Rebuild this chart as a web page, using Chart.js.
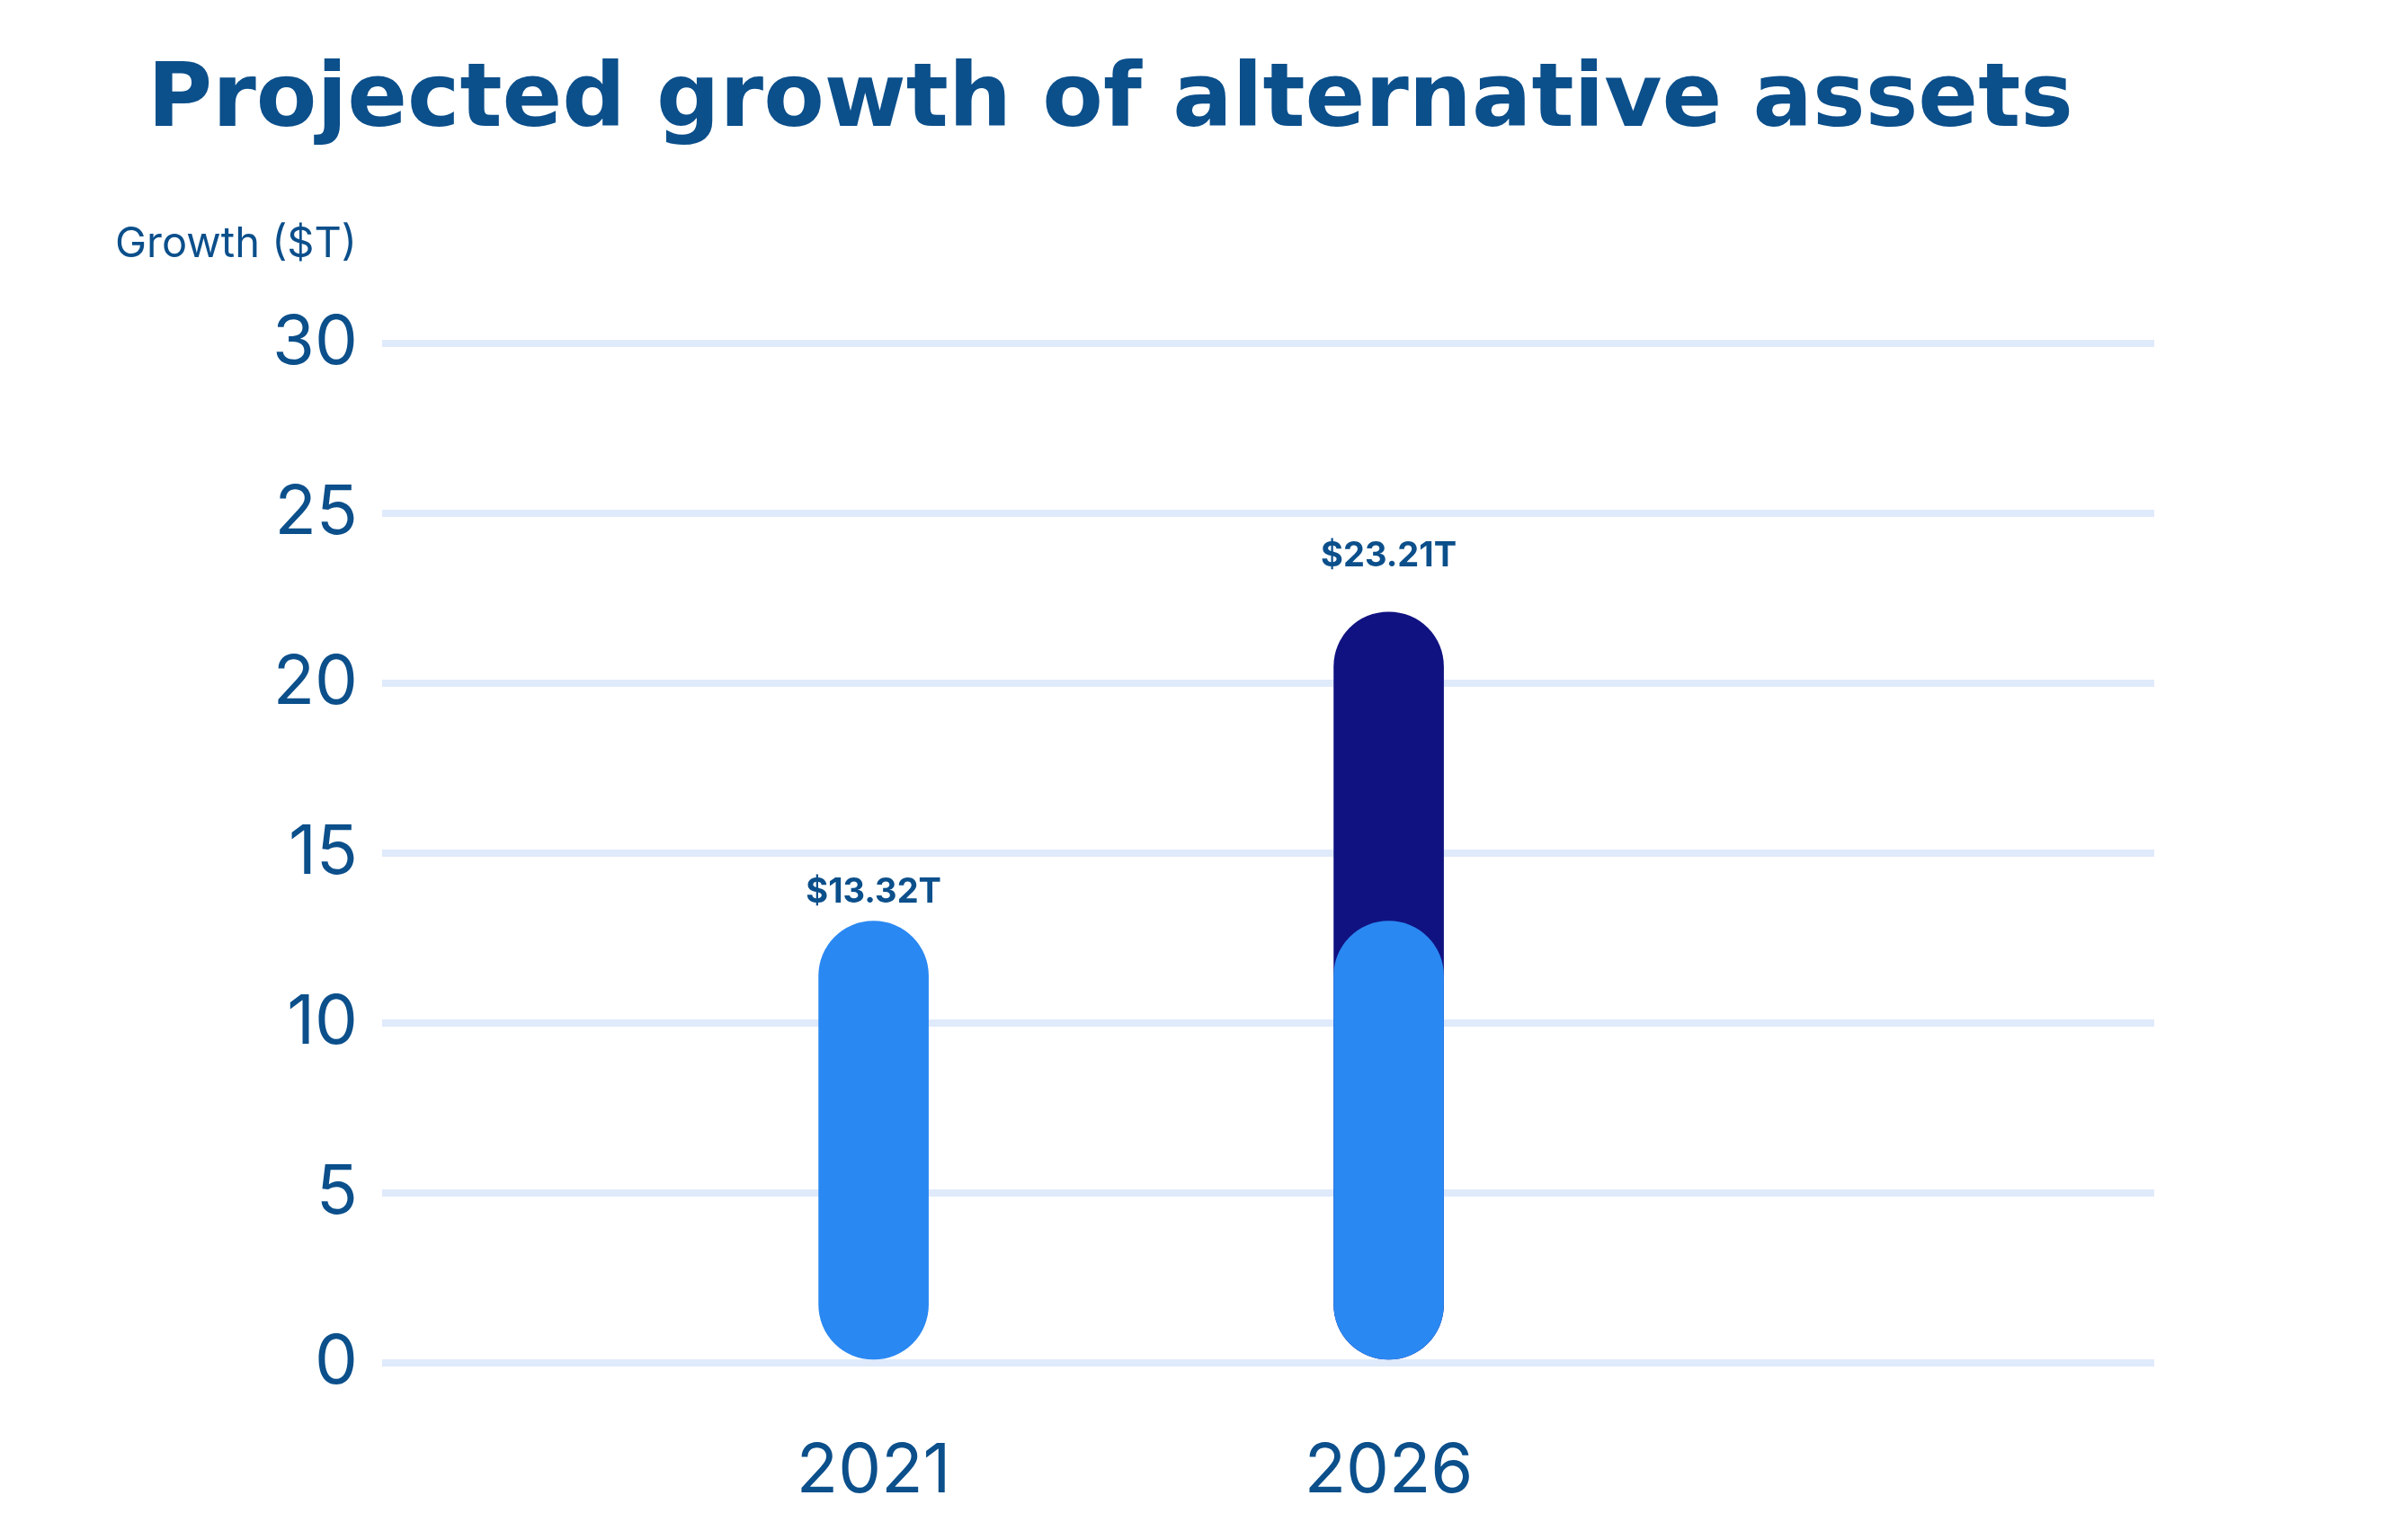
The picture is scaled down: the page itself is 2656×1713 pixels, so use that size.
<!DOCTYPE html>
<html>
<head>
<meta charset="utf-8">
<script src="https://cdn.jsdelivr.net/npm/chart.js@4.4.1/dist/chart.umd.min.js"></script>
<style>
  html, body { margin: 0; padding: 0; background: #ffffff; }
  #wrap { width: 2656px; height: 1713px; }
</style>
</head>
<body>
<div id="wrap"><canvas id="c" width="2656" height="1713"></canvas></div>
<script>
// ---- data ----
const chartTitle = 'Projected growth of alternative assets';
const axisLabel = 'Growth ($T)';
const years = [2021, 2026];
const currentAssets = [13.0, 13.0];      // light blue bars
const projectedAssets = [null, 22.1];    // navy bar behind (2026 only)
const totalLabels = ['$13.32T', '$23.21T'];
const totalLabelValues = [13.32, 23.21];
const yTicks = [0, 5, 10, 15, 20, 25, 30];

// ---- styles ----
const textColor = '#0b4f8b';
const lightBlue = '#2a88f2';
const navy = '#101282';
const gridColor = '#dfeafb';
const fontFamily = 'Inter, "Open Sans", sans-serif';
const titleFamily = '"DejaVu Sans", Inter, sans-serif';
const padLeft = 164;

const annotate = {
  id: 'annotate',
  afterDatasetsDraw(chart) {
    const { ctx, scales: { x, y } } = chart;
    ctx.save();
    ctx.fillStyle = textColor;
    ctx.font = '700 38px ' + fontFamily;
    ctx.textAlign = 'center';
    ctx.textBaseline = 'alphabetic';
    years.forEach((yr, i) => {
      ctx.fillText(totalLabels[i], x.getPixelForValue(yr), y.getPixelForValue(totalLabelValues[i]) - 9);
    });
    ctx.font = '400 47px ' + fontFamily;
    ctx.textAlign = 'left';
    ctx.fillText(axisLabel, 128, 286);
    ctx.restore();
  }
};

new Chart(document.getElementById('c'), {
  type: 'bar',
  data: {
    datasets: [
      {
        label: '2021 assets',
        data: years.map((yr, i) => ({ x: yr, y: currentAssets[i] })),
        backgroundColor: lightBlue,
        barThickness: 122,
        borderRadius: 61,
        borderSkipped: false,
        grouped: false,
        order: 0
      },
      {
        label: 'Projected growth',
        data: years.map((yr, i) => ({ x: yr, y: projectedAssets[i] })),
        backgroundColor: navy,
        barThickness: 122,
        borderRadius: 61,
        borderSkipped: false,
        grouped: false,
        order: 1
      }
    ]
  },
  options: {
    responsive: false,
    devicePixelRatio: 1,
    animation: false,
    layout: { padding: { left: padLeft, right: 260, top: 0, bottom: 0 } },
    plugins: {
      legend: { display: false },
      tooltip: { enabled: false },
      title: {
        display: true,
        text: chartTitle,
        align: 'start',
        color: textColor,
        font: { family: titleFamily, size: 98.5, weight: '700', lineHeight: 1.2 },
        padding: { top: 55, bottom: 209 }
      }
    },
    scales: {
      x: {
        type: 'linear',
        offset: false,
        bounds: 'data',
        min: 2016.23,
        max: 2033.43,
        grid: { display: false, offset: false },
        border: { display: false },
        afterBuildTicks: (scale) => { scale.ticks = years.map(v => ({ value: v })); },
        afterFit: (scale) => { scale.height = 197; },
        ticks: {
          autoSkip: false,
          maxRotation: 0,
          padding: 68,
          color: textColor,
          font: { family: fontFamily, size: 76, weight: '400' },
          callback: (v) => String(v)
        }
      },
      y: {
        min: 0,
        max: 30,
        afterBuildTicks: (scale) => { scale.ticks = yTicks.map(v => ({ value: v })); },
        afterFit: (scale) => { scale.width = 425 - padLeft; },
        grid: { color: gridColor, lineWidth: 8, drawTicks: false },
        border: { display: false },
        ticks: {
          padding: 27,
          color: textColor,
          font: { family: fontFamily, size: 76, weight: '400' },
          callback: (v) => String(v)
        }
      }
    }
  },
  plugins: [annotate]
});
</script>
</body>
</html>
